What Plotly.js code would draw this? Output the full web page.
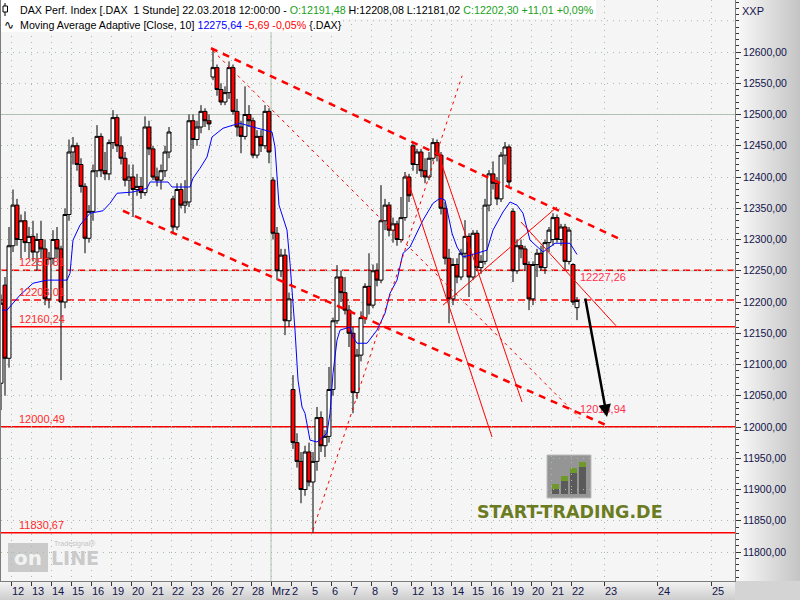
<!DOCTYPE html>
<html><head><meta charset="utf-8">
<script src="https://cdn.plot.ly/plotly-3.0.1.min.js"></script>
<style>
html,body{margin:0;padding:0;background:#d4d4d4;}
#chart{width:800px;height:600px;position:relative;
background:
 linear-gradient(to right,#fbfbfb,#c4c4c4) right top / 65px 581px no-repeat,
 linear-gradient(to bottom,#f4f4f4,#cdcdcd) left bottom / 735px 19px no-repeat,
 #d4d4d4;}
</style></head><body><div id="chart"></div>
<script>
// ---- axis tick labels (trading days; last three are future calendar days) ----
const tickLabels = ['12','13','14','15','16','19','20','21','22','23','26','27','28','Mrz','2','5','6','7','8','9','12','13','14','15','16','19','20','21','22','23','24','25'];
const tickDay = [0,1,2,3,4,5,6,7,8,9,10,11,12,13,14,15,16,17,18,19,20,21,22,23,24,25,26,27,28,29.65,32.3,35];
const priceTicks = [11800,11850,11900,11950,12000,12050,12100,12150,12200,12250,12300,12350,12400,12450,12500,12550,12600];

// ---- candle sessions (day index, Feb 12 = 0; -1 = Feb 9 tail) ----
const sessionDay = [-1,0,1,2,3,4,5,6,7,8,9,10,11,12,13,14,15,16,17,18,19,20,21,22,23,24,25,26,27,28];
const opens = [
 [12070,12227,12110],
 [12290,12355,12300,12330,12295],
 [12305,12280,12300,12285,12205],
 [12270,12300,12285,12200,12340],
 [12440,12450,12420,12385,12302],
 [12345,12410,12465,12410,12405],
 [12455,12495,12450,12430,12395],
 [12400,12380,12385,12375,12480],
 [12445,12400,12395,12410,12440],
 [12365,12320,12380,12355,12360],
 [12490,12460,12480,12505,12490],
 [12560,12575,12540,12520,12535],
 [12575,12505,12480,12465,12500],
 [12490,12435,12465,12450,12505],
 [12395,12310,12250,12275,12170],
 [12060,11975,11945,11900,11960],
 [11912,11945,12015,11970,11985],
 [12060,12170,12240,12215,12187],
 [12150,12055,12115,12175,12225],
 [12195,12250,12235,12330,12355],
 [12315,12325,12300,12335,12400],
 [12450,12420,12440,12410,12400],
 [12430,12455,12435,12350,12270],
 [12205,12260,12240,12278,12305],
 [12240,12310,12255,12265,12355],
 [12405,12390,12365,12435,12448],
 [12345,12250,12290,12285,12260],
 [12205,12260,12278,12255,12295],
 [12300,12335,12300,12320,12265],
 [12260,12191]
];
const highs = [
 [12212,12240,12320],
 [12380,12365,12340,12345,12320],
 [12330,12310,12330,12300,12280],
 [12315,12320,12290,12350,12460],
 [12464,12455,12430,12390,12355],
 [12420,12483,12470,12440,12460],
 [12507,12500,12465,12440,12420],
 [12420,12405,12400,12497,12490],
 [12450,12415,12420,12450,12480],
 [12370,12390,12390,12395,12500],
 [12500,12490,12515,12510,12500],
 [12606,12580,12550,12545,12585],
 [12580,12525,12490,12545,12515],
 [12495,12475,12475,12515,12510],
 [12400,12320,12285,12285,12215],
 [12083,11990,11960,11970,11975],
 [11960,12032,12025,11995,12096],
 [12175,12259,12250,12240,12195],
 [12160,12125,12185,12230,12278],
 [12260,12262,12387,12365,12360],
 [12335,12330,12368,12408,12405],
 [12456,12445,12445,12430,12440],
 [12462,12460,12440,12360,12285],
 [12270,12270,12285,12331,12310],
 [12315,12315,12275,12365,12411],
 [12425,12400,12440,12456,12452],
 [12350,12300,12300,12290,12265],
 [12265,12285,12290,12300,12320],
 [12342,12340,12325,12325,12320],
 [12262,12208]
];
const lows = [
 [12027,12050,12095],
 [12280,12290,12270,12280,12270],
 [12265,12250,12270,12195,12190],
 [12260,12270,12075,12190,12330],
 [12420,12410,12375,12278,12295],
 [12330,12400,12400,12395,12395],
 [12445,12440,12420,12385,12370],
 [12336,12370,12365,12370,12435],
 [12395,12385,12380,12400,12430],
 [12311,12315,12350,12342,12352],
 [12445,12450,12470,12480,12475],
 [12555,12530,12515,12515,12525],
 [12500,12465,12438,12460,12480],
 [12430,12430,12440,12445,12422],
 [12300,12235,12240,12147,12160],
 [11965,11935,11878,11890,11905],
 [11831,11930,11960,11952,11975],
 [12050,12165,12200,12180,12128],
 [12022,12045,12105,12165,12180],
 [12190,12225,12230,12315,12305],
 [12295,12290,12295,12330,12360],
 [12410,12405,12400,12390,12395],
 [12425,12425,12340,12260,12166],
 [12195,12230,12235,12270,12208],
 [12235,12250,12245,12260,12345],
 [12380,12355,12360,12420,12385],
 [12232,12245,12270,12250,12187],
 [12195,12240,12250,12245,12280],
 [12290,12295,12290,12251,12260],
 [12195,12171]
];
const closes = [
 [12198,12110,12290],
 [12355,12300,12330,12295,12305],
 [12280,12300,12285,12205,12270],
 [12300,12285,12200,12340,12440],
 [12450,12420,12385,12302,12345],
 [12410,12465,12410,12405,12455],
 [12495,12450,12430,12395,12400],
 [12380,12385,12375,12480,12445],
 [12400,12395,12410,12440,12472],
 [12320,12380,12355,12360,12490],
 [12460,12480,12505,12490,12485],
 [12575,12540,12520,12535,12575],
 [12505,12480,12465,12500,12490],
 [12435,12465,12450,12505,12440],
 [12310,12250,12275,12170,12205],
 [11975,11945,11900,11960,11912],
 [11945,12015,11970,11985,12060],
 [12170,12240,12215,12187,12150],
 [12055,12115,12175,12225,12195],
 [12250,12235,12330,12355,12315],
 [12325,12300,12335,12400,12370],
 [12420,12440,12410,12400,12430],
 [12455,12435,12350,12270,12205],
 [12260,12240,12278,12305,12240],
 [12310,12255,12265,12355,12405],
 [12390,12365,12435,12448,12392],
 [12250,12290,12285,12260,12205],
 [12260,12278,12255,12295,12315],
 [12335,12300,12320,12265,12315],
 [12200,12202.30]
];

// ---- Moving Average Adaptive, x in hourly slots ----
const maSlot = [-4.05,-1.8,4.05,9.9,16.2,25.2,26.55,27.9,31.05,35.55,41.4,44.55,47.7,54.9,61.2,62.55,70.65,72.45,80.55,81.9,85.05,88.2,90.45,95.4,99.9,103.05,108.9,115.2,117.45,118.8,120.6,124.2,125.55,127.8,129.15,130.95,132.3,134.55,137.7,142.2,143.55,144.9,146.7,148.05,152.55,153.9,155.7,160.2,164.7,168.3,170.55,173.7,176.4,179.55,182.7,185.4,189.9,193.05,195.3,196.65,198.45,200.7,203.4,209.7,214.2,216.9,221.4,224.55,227.7,230.4,233.55,239.4,242.55,244.8,251.55,254.7];
const maValue = [12187,12187,12211,12230,12235,12235,12246,12299,12323,12342,12346,12358,12374,12376,12382,12392,12392,12384,12384,12398,12414,12432,12464,12478,12483,12486,12480,12475,12472,12448,12355,12315,12262,12155,12075,12032,12022,11979,11976,11990,12022,12086,12139,12155,12160,12144,12134,12134,12155,12182,12214,12235,12278,12288,12310,12331,12358,12366,12363,12342,12310,12288,12272,12278,12283,12315,12344,12360,12355,12342,12299,12280,12288,12294,12294,12276];

// ---- horizontal levels ----
const levels = [12250.81,12203.01,12160.24,12000.49,11830.67];
const levelDashed = [true,true,false,false,false];
const extraLabels = [12227.26,12015.94];

// ---- drawn trend lines [slot, price] ----
const channelUpper = [[90,12606],[275,12299]];
const channelLower = [[50.4,12346],[267.8,12003]];
const fanDashed = [[90.9,12602],[256,12014]];
const riseDashed = [[135.9,11835],[203,12562]];
const thinA = [[177.75,12403],[216.45,11984]];
const thinB = [[191.7,12443],[229.95,12040]];
const thinRise = [[194.4,12195],[245.7,12352]];
const thinFall = [[229.5,12328],[272.25,12162]];
const arrowPath = [[258.3,12208],[268.2,12016]];

// ---- build candles ----
const X=[],O=[],H=[],L=[],C=[];
sessionDay.forEach((d,i)=>{
  const n=opens[i].length, start=d<0?5-n:0;
  for(let k=0;k<n;k++){
    X.push(9*d+0.9+1.8*(start+k));
    O.push(opens[i][k]);H.push(highs[i][k]);L.push(lows[i][k]);C.push(closes[i][k]);
  }
});

const PX=v=>(v-1)/734, PY=v=>1-v/581;
const fmt=v=>v.toFixed(2).replace('.',',');
const FONT='Liberation Sans, Arial, sans-serif';

const shapes=[];
shapes.push({type:'line',xref:'paper',x0:0,x1:1,yref:'y',y0:12650,y1:12650,line:{color:'#a9bba9',width:1,dash:'1px,5px'},layer:'below'});
[12500,12250,12000].forEach(p=>shapes.push({type:'line',xref:'paper',x0:0,x1:1,yref:'y',y0:p,y1:p,line:{color:'#b4c2b4',width:1},layer:'below'}));
shapes.push({type:'line',xref:'x',x0:9*13,x1:9*13,yref:'paper',y0:0,y1:1,line:{color:'#b4c2b4',width:1},layer:'below'});
levels.forEach((p,i)=>shapes.push({type:'line',xref:'paper',x0:0,x1:1,yref:'y',y0:p,y1:p,
  line:{color:'#ff0000',width:1.5,dash:levelDashed[i]?'7px,4px':'solid'},layer:'between'}));
function seg(a,line){shapes.push({type:'line',xref:'x',yref:'y',x0:a[0][0],y0:a[0][1],x1:a[1][0],y1:a[1][1],line:line,layer:'above'});}
const thick={color:'#ff0000',width:2.5,dash:'7px,6px'};
const thinD={color:'#ff0000',width:1,dash:'3px,4px'};
const thinS={color:'#ff0000',width:1};
seg(channelUpper,thick);seg(channelLower,thick);
seg(fanDashed,thinD);seg(riseDashed,thinD);
seg(thinA,thinS);seg(thinB,thinS);seg(thinRise,thinS);seg(thinFall,thinS);
shapes.push({type:'rect',xref:'paper',yref:'paper',x0:PX(1),x1:PX(596),y0:PY(19),y1:PY(0),fillcolor:'#ffffff',line:{width:0},layer:'above'});
shapes.push({type:'rect',xref:'paper',yref:'paper',x0:PX(1),x1:PX(341),y0:PY(32),y1:PY(19),fillcolor:'#ffffff',line:{width:0},layer:'above'});
shapes.push({type:'line',xref:'paper',yref:'paper',x0:PX(5),x1:PX(5),y0:PY(16),y1:PY(3),line:{color:'#000',width:1},layer:'above'});
shapes.push({type:'rect',xref:'paper',yref:'paper',x0:PX(3),x1:PX(7.5),y0:PY(12),y1:PY(6),fillcolor:'#ffffff',line:{color:'#000',width:1},layer:'above'});
shapes.push({type:'rect',xref:'paper',yref:'paper',x0:PX(547),x1:PX(591),y0:PY(498),y1:PY(455),fillcolor:'#959595',line:{color:'#bdbdbd',width:1},layer:'below'});
[[552,484],[561,476],[570,468],[579,462]].forEach(b=>{
  shapes.push({type:'rect',xref:'paper',yref:'paper',x0:PX(b[0]),x1:PX(b[0]+7),y0:PY(494),y1:PY(b[1]),fillcolor:'#5a5a5a',line:{width:0},layer:'below'});
  shapes.push({type:'rect',xref:'paper',yref:'paper',x0:PX(b[0]),x1:PX(b[0]+7),y0:PY(b[1]+5),y1:PY(b[1]),fillcolor:'#6f9a2a',line:{width:0},layer:'below'});
});
shapes.push({type:'rect',xref:'paper',yref:'paper',x0:PX(8),x1:PX(48),y0:PY(572),y1:PY(543),fillcolor:'#cacaca',line:{width:0},layer:'below'});

const annotations=[];
annotations.push({xref:'paper',yref:'paper',x:PX(18),y:PY(10),xanchor:'left',yanchor:'middle',showarrow:false,
  font:{family:FONT,size:10.7,color:'#000'},
  text:'DAX Perf. Index [.DAX  1 Stunde] 22.03.2018 12:00:00 - <span style="color:#1aa01a">O:12191,48</span> H:12208,08 L:12181,02 <span style="color:#1aa01a">C:12202,30 +11,01 +0,09%</span>'});
annotations.push({xref:'paper',yref:'paper',x:PX(18),y:PY(25),xanchor:'left',yanchor:'middle',showarrow:false,
  font:{family:FONT,size:10.7,color:'#000'},
  text:'Moving Average Adaptive [Close, 10] <span style="color:#0000ff">12275,64</span> <span style="color:#ff0000">-5,69 -0,05%</span> {.DAX}'});
annotations.push({xref:'paper',yref:'paper',x:PX(9),y:PY(25),xanchor:'center',yanchor:'middle',showarrow:false,font:{family:'DejaVu Sans',size:12,color:'#000'},text:'∿'});
annotations.push({xref:'paper',yref:'paper',x:PX(740),y:PY(11),xanchor:'left',yanchor:'middle',showarrow:false,font:{family:FONT,size:11,color:'#14144a'},text:'XXP'});
levels.forEach(p=>annotations.push({xref:'paper',yref:'y',x:PX(17),y:p,xanchor:'left',yanchor:'bottom',yshift:0,showarrow:false,font:{family:FONT,size:11,color:'#ff2a2a'},text:fmt(p)}));
extraLabels.forEach(p=>annotations.push({xref:'x',yref:'y',x:255.2,y:p,xanchor:'left',yanchor:'bottom',showarrow:false,font:{family:FONT,size:11,color:'#ff3050'},text:fmt(p)}));
annotations.push({xref:'x',yref:'y',axref:'x',ayref:'y',x:arrowPath[1][0],y:arrowPath[1][1],ax:arrowPath[0][0],ay:arrowPath[0][1],text:'',showarrow:true,arrowhead:2,arrowsize:1,arrowwidth:2.5,arrowcolor:'#000'});
annotations.push({xref:'paper',yref:'paper',x:PX(570),y:PY(512),xanchor:'center',yanchor:'middle',showarrow:false,font:{family:'DejaVu Sans',size:17.5,color:'#6b7b1f',weight:'bold'},text:'<b>START-TRADING.DE</b>'});
annotations.push({xref:'paper',yref:'paper',x:PX(28),y:PY(558),xanchor:'center',yanchor:'middle',showarrow:false,font:{family:'DejaVu Sans',size:20,color:'#f2f2f2'},text:'<b>on</b>'});
annotations.push({xref:'paper',yref:'paper',x:PX(49),y:PY(558),xanchor:'left',yanchor:'middle',showarrow:false,font:{family:'DejaVu Sans',size:19,color:'#cacaca'},text:'<b>LINE</b>'});
annotations.push({xref:'paper',yref:'paper',x:PX(52),y:PY(544),xanchor:'left',yanchor:'middle',showarrow:false,font:{family:FONT,size:7,color:'#c4c4c4'},text:'Tradesignal®'});

const traces=[
 {type:'candlestick',x:X,open:O,high:H,low:L,close:C,whiskerwidth:0,hoverinfo:'skip',
  increasing:{line:{color:'#000000',width:1},fillcolor:'#ffffff'},
  decreasing:{line:{color:'#000000',width:1},fillcolor:'#ff0000'}},
 {type:'scatter',mode:'lines',x:maSlot,y:maValue,line:{color:'#0000ff',width:1},hoverinfo:'skip'}
];

const layout={
 width:800,height:600,margin:{l:1,r:65,t:0,b:19,pad:0},
 paper_bgcolor:'rgba(0,0,0,0)',plot_bgcolor:'#f5f5f5',
 separators:',.',showlegend:false,boxgap:0,boxgroupgap:0.02,
 font:{family:FONT,size:10.5,color:'#14144a'},
 xaxis:{range:[-4.5,325.8],tickmode:'array',tickvals:tickDay.map(d=>9*d),ticktext:tickLabels,
  tickangle:0,ticks:'outside',ticklen:4,tickcolor:'#333',ticklabelposition:'outside right',
  tickfont:{family:FONT,size:11,color:'#14144a'},
  showgrid:true,gridcolor:'#a9bba9',griddash:'1px,5px',gridwidth:1,zeroline:false,
  showline:true,mirror:true,linecolor:'#7c7c7c',linewidth:1,rangeslider:{visible:false},fixedrange:true},
 yaxis:{side:'right',range:[11753.6,12683.2],tickmode:'array',tickvals:priceTicks,tickformat:'.2f',
  ticks:'outside',ticklen:5,tickcolor:'#333',tickfont:{family:FONT,size:10.5,color:'#14144a'},
  minor:{dtick:10,tick0:0,ticks:'outside',ticklen:3,tickcolor:'#333',showgrid:false},
  showgrid:true,gridcolor:'#a9bba9',griddash:'1px,5px',gridwidth:1,zeroline:false,
  showline:true,mirror:true,linecolor:'#7c7c7c',linewidth:1,fixedrange:true},
 shapes:shapes,annotations:annotations
};
Plotly.newPlot('chart',traces,layout,{staticPlot:true,displayModeBar:false});
</script></body></html>
